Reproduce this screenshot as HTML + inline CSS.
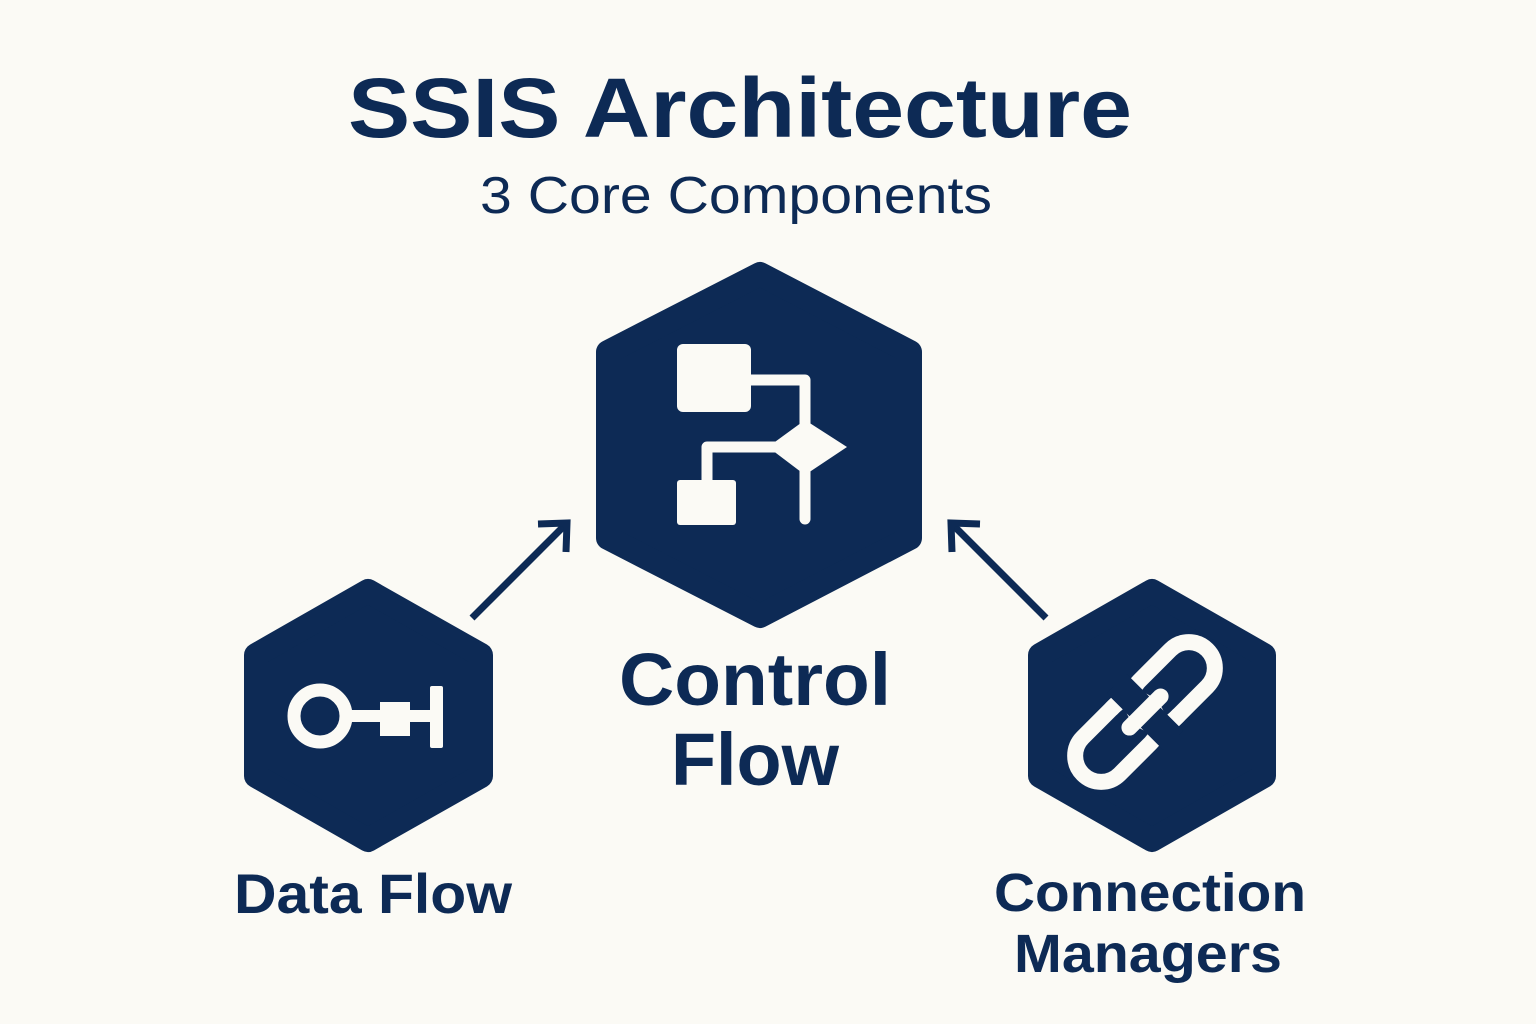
<!DOCTYPE html>
<html><head><meta charset="utf-8"><style>
html,body{margin:0;padding:0;background:#fbfaf5;}
svg{display:block}
text{font-family:"Liberation Sans",sans-serif;fill:#0d2a55;font-weight:bold}
</style></head><body>
<svg width="1536" height="1024" viewBox="0 0 1536 1024" xmlns="http://www.w3.org/2000/svg">
<rect width="1536" height="1024" fill="#fbfaf5"/>
<text x="740" y="137" font-size="84" text-anchor="middle" textLength="784" lengthAdjust="spacingAndGlyphs">SSIS Architecture</text>
<text x="736" y="213" font-size="52" style="font-weight:normal" text-anchor="middle" textLength="512" lengthAdjust="spacingAndGlyphs">3 Core Components</text>

<g fill="#0d2a55" stroke="#0d2a55" stroke-width="24" stroke-linejoin="round">
<polygon points="760,274 910,352 910,538 760,616 608,538 608,352"/>
<polygon points="368,591 481,655 481,776 368,840 256,776 256,655"/>
<polygon points="1152,591 1264,655 1264,776 1152,840 1040,776 1040,655"/>
</g>

<g stroke="#0d2a55" stroke-width="7" fill="none">
<line x1="472" y1="618" x2="565" y2="525"/>
<polyline points="538,524 567,523 566,552"/>
<line x1="1046" y1="618" x2="953" y2="525"/>
<polyline points="980,524 951,523 952,552"/>
</g>

<g fill="#fbfaf5">
<rect x="677" y="344" width="74" height="68" rx="6"/>
<rect x="677" y="480" width="59" height="45" rx="3"/>
<polygon points="805,420 847,447 805,475 768,447"/>
</g>
<g stroke="#fbfaf5" stroke-width="11" fill="none" stroke-linecap="round" stroke-linejoin="round">
<polyline points="745,380 805,380 805,425"/>
<polyline points="790,447 707,447 707,485"/>
<line x1="805" y1="470" x2="805" y2="519"/>
</g>

<g>
<circle cx="320" cy="716" r="26" fill="none" stroke="#fbfaf5" stroke-width="13"/>
<rect x="345" y="710" width="40" height="12" fill="#fbfaf5"/>
<rect x="380" y="702" width="30" height="34" fill="#fbfaf5"/>
<rect x="408" y="710" width="24" height="12" fill="#fbfaf5"/>
<rect x="430" y="686" width="13" height="62" rx="2" fill="#fbfaf5"/>
</g>

<!-- chain icon, drawn in rotated frame: axis along x -->
<g transform="translate(1145 712) rotate(-45)">
  <!-- upper link (positive x) -->
  <rect x="-8" y="-26" width="96" height="52" rx="26" fill="none" stroke="#fbfaf5" stroke-width="16"/>
  <!-- lower link (negative x) -->
  <rect x="-88" y="-26" width="96" height="52" rx="26" fill="none" stroke="#fbfaf5" stroke-width="16"/>
  <!-- break the overlap region -->
  <rect x="-14" y="-40" width="28" height="80" fill="#0d2a55"/>
  <!-- middle connecting bar -->
  <rect x="-30" y="-8" width="60" height="16" rx="8" fill="#fbfaf5"/>
  <rect x="-22" y="-34" width="8" height="16" fill="#fbfaf5"/>
  <rect x="14" y="18" width="8" height="16" fill="#fbfaf5"/>
</g>

<text x="755" y="705" font-size="74" text-anchor="middle" textLength="272" lengthAdjust="spacingAndGlyphs">Control</text>
<text x="755" y="785" font-size="74" text-anchor="middle" textLength="168" lengthAdjust="spacingAndGlyphs">Flow</text>
<text x="373" y="913" font-size="56" text-anchor="middle" textLength="278" lengthAdjust="spacingAndGlyphs">Data Flow</text>
<text x="1150" y="911" font-size="54" text-anchor="middle" textLength="312" lengthAdjust="spacingAndGlyphs">Connection</text>
<text x="1148" y="972" font-size="54" text-anchor="middle" textLength="268" lengthAdjust="spacingAndGlyphs">Managers</text>
</svg>
</body></html>
